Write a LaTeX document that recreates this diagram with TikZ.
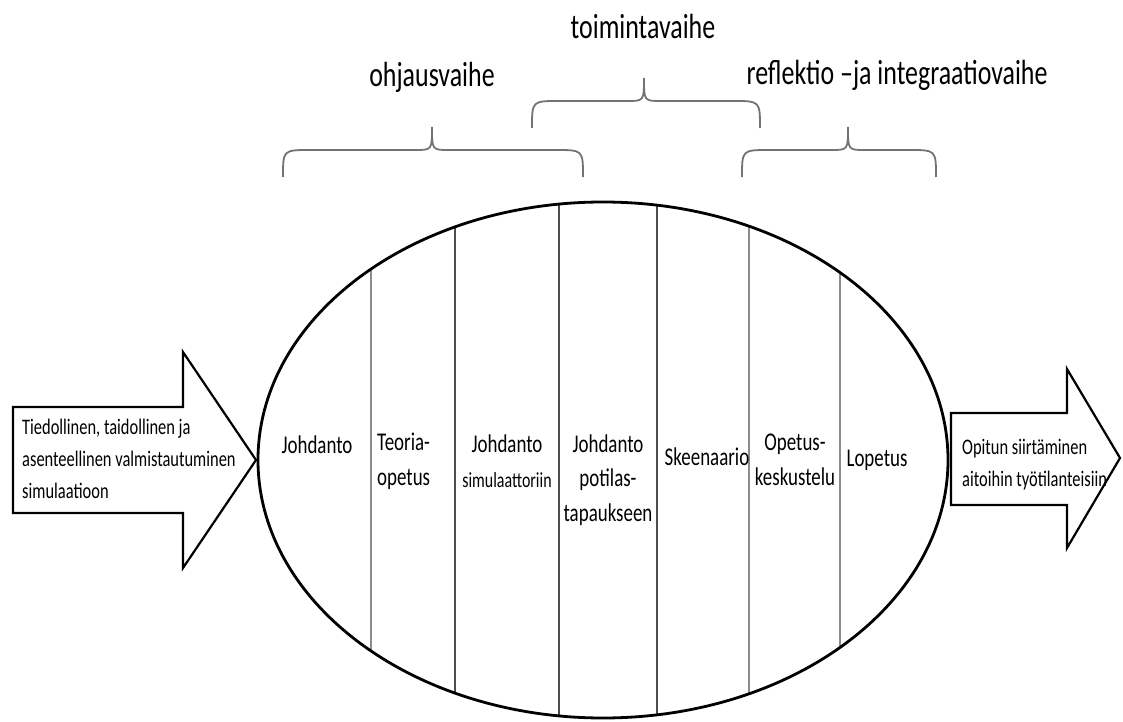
\documentclass[tikz,border=0pt]{standalone}
\usepackage{fontspec}
\setmainfont{Carlito}
\usepackage{graphicx}
\newcommand\tallc[1]{\scalebox{1}[1.35]{\begin{tabular}{@{}c@{}}#1\end{tabular}}}
\newcommand\talll[1]{\scalebox{1}[1.35]{\begin{tabular}{@{}l@{}}#1\end{tabular}}}
\begin{document}
\begin{tikzpicture}[x=1bp,y=-1bp,
  seg/.style={inner sep=0pt, font=\fontsize{19}{26}\selectfont},
  small/.style={inner sep=0pt, font=\fontsize{16.5}{24}\selectfont},
  phase/.style={inner sep=0pt, font=\fontsize{26}{30}\selectfont},
  bigarrow/.style={draw=black, line width=2.2bp, fill=white, line join=miter},
  brace/.style={draw=black!55, line width=1.8bp},
  divider/.style={draw=black!45, line width=1.2bp},
  darkdivider/.style={draw=black!70, line width=1.4bp}]
\useasboundingbox (0,0) rectangle (1123,722);

% arrows
\draw[bigarrow] (13,407) -- (183,407) -- (183,352) -- (256,460) -- (183,568) -- (183,513) -- (13,513) -- cycle;
\draw[bigarrow] (951,413) -- (1067,413) -- (1067,369) -- (1120,458) -- (1067,548) -- (1067,505) -- (951,505) -- cycle;

% ellipse and dividers
\begin{scope}
\clip (603,460) ellipse [x radius=345, y radius=258];
\draw[divider] (371,190) -- (371,730);
\draw[darkdivider] (455,190) -- (455,730);
\draw[darkdivider] (559,190) -- (559,730);
\draw[darkdivider] (657,190) -- (657,730);
\draw[divider] (749,190) -- (749,730);
\draw[divider] (840,190) -- (840,730);
\end{scope}
\draw[line width=2.8bp] (603,460) ellipse [x radius=345, y radius=258];

% braces
\draw[brace] (283,177) .. controls (283,150) .. (310,150) -- (415,150) .. controls (432,150) .. (432,127) .. controls (432,150) .. (449,150) -- (556,150) .. controls (583,150) .. (583,177);
\draw[brace] (532,128) .. controls (532,101) .. (559,101) -- (627,101) .. controls (644,101) .. (644,78) .. controls (644,101) .. (661,101) -- (733,101) .. controls (760,101) .. (760,128);
\draw[brace] (742,177) .. controls (742,150) .. (769,150) -- (831,150) .. controls (848,150) .. (848,127) .. controls (848,150) .. (865,150) -- (909,150) .. controls (936,150) .. (936,177);

% phase labels
\node[phase] (p2) at (643,30) {\tallc{toimintavaihe}};
\node[phase] (p1) at (432,78) {\tallc{ohjausvaihe}};
\node[phase] (p3) at (897,76) {\tallc{reflektio –ja integraatiovaihe}};

% segment labels
\node[seg] (s1) at (317,447) {\tallc{Johdanto}};
\node[seg, anchor=west] (s2) at (377,461) {\talll{Teoria-\\opetus}};
\node[seg] (s3) at (507,463) {\tallc{Johdanto\\{\fontsize{16}{24}\selectfont simulaattoriin}}};
\node[seg] (s4) at (608,480) {\tallc{Johdanto\\potilas-\\tapaukseen}};
\node[seg] (s5) at (707,459) {\tallc{Skeenaario}};
\node[seg] (s6) at (795,461) {\tallc{Opetus-\\keskustelu}};
\node[seg] (s7) at (877,460) {\tallc{Lopetus}};

% arrow texts
\node[small, anchor=west] (lt) at (22,460) {\talll{Tiedollinen, taidollinen ja\\asenteellinen valmistautuminen\\simulaatioon}};
\node[small, anchor=west] (rt) at (962,464) {\talll{Opitun siirtäminen\\aitoihin työtilanteisiin}};
\end{tikzpicture}
\end{document}
